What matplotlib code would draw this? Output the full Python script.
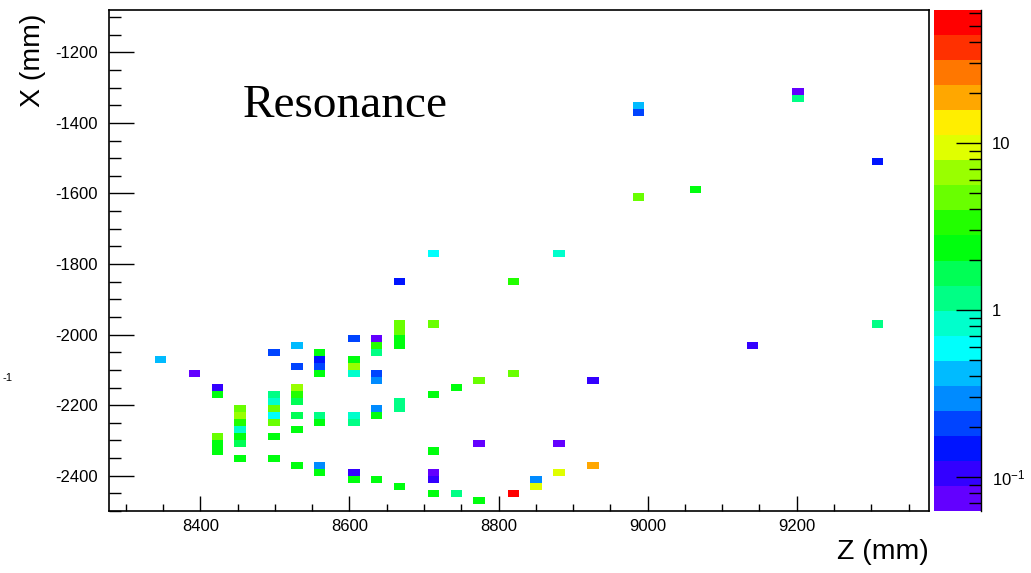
import colorsys
import matplotlib
matplotlib.use('Agg')
import matplotlib.pyplot as plt
from matplotlib.colors import ListedColormap, LogNorm
from matplotlib.ticker import MultipleLocator, LogLocator, NullFormatter
import numpy as np

plt.rcParams['font.family'] = ['Liberation Sans', 'DejaVu Sans']
plt.rcParams['axes.unicode_minus'] = False
plt.rcParams['mathtext.fontset'] = 'custom'
plt.rcParams['mathtext.rm'] = 'Liberation Sans'
plt.rcParams['mathtext.default'] = 'regular'

# bins del histograma 2D (Z y X en mm)
z_edges = np.linspace(8277.5, 9377.5, 73)
x_edges = np.linspace(-2500, -1080, 72)

z_mm = ([8346] + [8392] + [8423] * 5 + [8453] * 7 + [8499] * 8 + [8530] * 8
        + [8560] * 8 + [8606] * 8 + [8637] * 8 + [8667] * 8 + [8713] * 7
        + [8744] * 2 + [8774] * 3 + [8820] * 3 + [8850] * 2 + [8881] * 3
        + [8927] * 2 + [8988] * 3 + [9064] + [9141] + [9202] * 2 + [9309] * 2)
x_mm = [-2070,
        -2110,
        -2150, -2170, -2290, -2310, -2330,
        -2210, -2230, -2250, -2270, -2290, -2310, -2350,
        -2050, -2170, -2190, -2210, -2230, -2250, -2290, -2350,
        -2030, -2090, -2150, -2170, -2190, -2230, -2270, -2370,
        -2050, -2070, -2090, -2110, -2230, -2250, -2370, -2390,
        -2010, -2070, -2090, -2110, -2230, -2250, -2390, -2410,
        -2010, -2030, -2050, -2110, -2130, -2210, -2230, -2410,
        -1850, -1970, -1990, -2010, -2030, -2190, -2210, -2430,
        -1770, -1970, -2170, -2330, -2390, -2410, -2450,
        -2150, -2450,
        -2130, -2310, -2470,
        -1850, -2110, -2450,
        -2410, -2430,
        -1770, -2310, -2390,
        -2130, -2370,
        -1350, -1370, -1610,
        -1590,
        -2030,
        -1310, -1330,
        -1510, -1970]
contenido = [0.42,
             0.075,
             0.105, 2.3, 4.7, 2.3, 2.3,
             4.7, 6.6, 3.3, 0.83, 2.3, 1.65, 2.3,
             0.21, 1.2, 0.83, 4.7, 0.6, 4.7, 2.3, 2.3,
             0.42, 0.21, 6.6, 3.3, 1.65, 1.65, 2.3, 2.3,
             2.3, 0.15, 0.21, 2.3, 1.2, 2.3, 0.3, 2.3,
             0.21, 2.3, 6.6, 0.83, 0.83, 1.2, 0.105, 2.3,
             0.075, 3.3, 1.2, 0.21, 0.3, 0.3, 2.3, 2.3,
             0.15, 4.7, 4.7, 2.3, 2.3, 1.2, 1.2, 2.3,
             0.6, 4.7, 2.3, 2.3, 0.075, 0.105, 2.3,
             2.3, 1.2,
             4.7, 0.075, 2.3,
             3.3, 4.7, 52,
             0.3, 9.3,
             0.83, 0.075, 9.3,
             0.105, 18.5,
             0.42, 0.21, 4.7,
             2.3,
             0.105,
             0.075, 1.2,
             0.15, 1.2]

# paleta arcoiris de ROOT (50 colores, 20 niveles)
colores = []
for c in range(20):
    idx = int((c + 0.99) * 50 / 20)
    hue = 280 - (idx + 1) * 280 / 50
    colores.append(colorsys.hls_to_rgb(hue / 360, 0.5, 1.0))
cmap = ListedColormap(colores)

fig = plt.figure(figsize=(10.31, 5.73), dpi=100)
ax = fig.add_axes([109 / 1031, 62 / 573, 820 / 1031, 501 / 573])

h = ax.hist2d(z_mm, x_mm, bins=[z_edges, x_edges], weights=contenido,
              cmap=cmap, norm=LogNorm(vmin=0.0625, vmax=62.5), cmin=1e-9)

ax.set_xlim(8277.5, 9377.5)
ax.set_ylim(-2500, -1080)
ax.xaxis.set_major_locator(MultipleLocator(200))
ax.xaxis.set_minor_locator(MultipleLocator(50))
ax.yaxis.set_major_locator(MultipleLocator(200))
ax.yaxis.set_minor_locator(MultipleLocator(50))
ax.tick_params(which='both', direction='in', top=False, right=False,
               labelsize=12, width=1)
ax.tick_params(axis='y', which='major', length=17.7, pad=8)
ax.tick_params(axis='y', which='minor', length=8.9)
ax.tick_params(axis='x', which='major', length=10.8, pad=6)
ax.tick_params(axis='x', which='minor', length=5.4)
for s in ax.spines.values():
    s.set_linewidth(1.2)

ax.set_xlabel('Z (mm)', fontsize=20.5, loc='right')
ax.set_ylabel('X (mm)', fontsize=20.5, loc='top')
ax.xaxis.set_label_coords(1.0, -0.056)
ax.yaxis.set_label_coords(-0.077, 0.993)

fig.text(243 / 1031, 1 - 117 / 573, 'Resonance', family='Liberation Serif',
         fontsize=34, va='baseline')

# resto de otra etiqueta en el borde izquierdo
fig.text(0.002, 1 - 378 / 573, '-1', fontsize=8, va='center')

# barra de colores
cax = fig.add_axes([934 / 1031, 62 / 573, 47 / 1031, 501 / 573])
cb = fig.colorbar(h[3], cax=cax)
cb.outline.set_visible(False)
cb.set_ticks([0.1, 1, 10])
cb.set_ticklabels(['10$^{-1}$', '1', '10'])
cax.yaxis.set_minor_locator(LogLocator(base=10, subs=np.arange(2, 10)))
cax.yaxis.set_minor_formatter(NullFormatter())
cax.tick_params(which='both', direction='in', right=True, left=False, width=1)
cax.tick_params(which='major', length=18, labelsize=12, pad=8)
cax.tick_params(which='minor', length=9)
cax.plot([1, 1], [0, 1], transform=cax.transAxes, color='k', lw=1,
         clip_on=False)

fig.savefig('out.png', dpi=100)
